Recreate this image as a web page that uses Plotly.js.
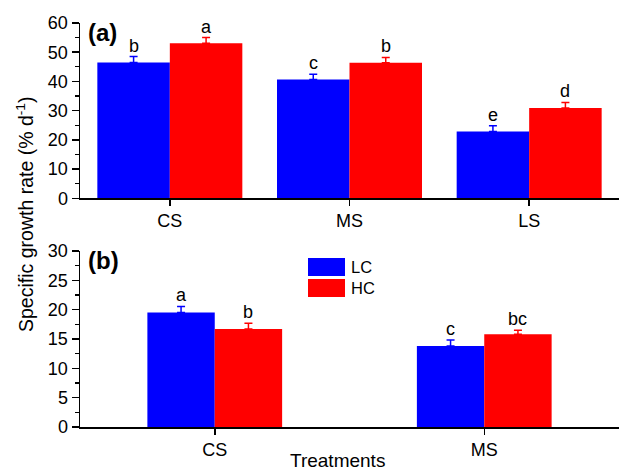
<!DOCTYPE html>
<html><head><meta charset="utf-8">
<script src="https://cdn.plot.ly/plotly-3.0.1.min.js"></script>
<style>html,body{margin:0;padding:0;background:#fff;}#chart{width:619px;height:473px;}</style>
</head><body><div id="chart"></div>
<script>
// Panel (a)
const categoriesA = ['CS', 'MS', 'LS'];
const lcA = [46.5, 40.7, 22.9];
const lcErrA = [2.0, 1.8, 1.9];
const hcA = [53.1, 46.4, 30.9];
const hcErrA = [1.9, 1.8, 1.9];
const lcLettersA = ['b', 'c', 'e'];
const hcLettersA = ['a', 'b', 'd'];
// Panel (b)
const categoriesB = ['CS', 'MS'];
const lcB = [19.5, 13.8];
const lcErrB = [1.05, 1.05];
const hcB = [16.7, 15.8];
const hcErrB = [1.0, 0.7];
const lcLettersB = ['a', 'c'];
const hcLettersB = ['b', 'bc'];

const BLUE = '#0000FF', RED = '#FF0000';
const FONT = 'Liberation Sans, Arial, sans-serif';
const W = 619, H = 473, ML = 80, MR = 0, MT = 23, MB = 46;
const plotW = W - ML - MR, plotH = H - MT - MB;
const gapA = 0.193, gapB = 0.5;

function errObj(arr, color) {
  return {type: 'data', symmetric: false, array: arr, arrayminus: arr.map(() => 0),
          color: color, thickness: 1.5, width: 4};
}

const traces = [
  {type: 'bar', x: categoriesA, y: lcA, name: 'LC', marker: {color: BLUE}, error_y: errObj(lcErrA, BLUE), xaxis: 'x', yaxis: 'y', showlegend: false},
  {type: 'bar', x: categoriesA, y: hcA, name: 'HC', marker: {color: RED}, error_y: errObj(hcErrA, RED), xaxis: 'x', yaxis: 'y', showlegend: false},
  {type: 'bar', x: categoriesB, y: lcB, name: 'LC', marker: {color: BLUE}, error_y: errObj(lcErrB, BLUE), xaxis: 'x2', yaxis: 'y2', showlegend: false},
  {type: 'bar', x: categoriesB, y: hcB, name: 'HC', marker: {color: RED}, error_y: errObj(hcErrB, RED), xaxis: 'x2', yaxis: 'y2', showlegend: false}
];

const annotations = [];
function letters(cats, vals, errs, labs, sign, xr, yr, gap) {
  const off = (plotW / cats.length) * (1 - gap) / 4;
  cats.forEach((c, i) => {
    annotations.push({xref: xr, yref: yr, x: c, y: vals[i] + errs[i], text: labs[i],
      showarrow: false, xanchor: 'center', yanchor: 'bottom', xshift: sign * off, yshift: -1,
      font: {family: FONT, size: 18, color: '#000'}});
  });
}
letters(categoriesA, lcA, lcErrA, lcLettersA, -1, 'x', 'y', gapA);
letters(categoriesA, hcA, hcErrA, hcLettersA, 1, 'x', 'y', gapA);
letters(categoriesB, lcB, lcErrB, lcLettersB, -1, 'x2', 'y2', gapB);
letters(categoriesB, hcB, hcErrB, hcLettersB, 1, 'x2', 'y2', gapB);

function px2x(p) { return (p - ML) / plotW; }
function py2y(p) { return (H - MB - p) / plotH; }

annotations.push(
  {xref: 'paper', yref: 'paper', x: px2x(86), y: py2y(32), text: '<b>(a)</b>', showarrow: false, xanchor: 'left', yanchor: 'middle', font: {family: FONT, size: 24, color: '#000'}},
  {xref: 'paper', yref: 'paper', x: px2x(86), y: py2y(260), text: '<b>(b)</b>', showarrow: false, xanchor: 'left', yanchor: 'middle', font: {family: FONT, size: 24, color: '#000'}},
  {xref: 'paper', yref: 'paper', x: px2x(25), y: py2y(215), text: 'Specific growth rate (% d<sup>-1</sup>)', textangle: -90, showarrow: false, xanchor: 'center', yanchor: 'middle', font: {family: FONT, size: 19.5, color: '#000'}},
  {xref: 'paper', yref: 'paper', x: px2x(337), y: py2y(472.5), text: 'Treatments', showarrow: false, xanchor: 'center', yanchor: 'bottom', font: {family: FONT, size: 19, color: '#000'}},
  {xref: 'paper', yref: 'paper', x: px2x(349), y: py2y(267), text: 'LC', showarrow: false, xanchor: 'left', yanchor: 'middle', font: {family: FONT, size: 16.5, color: '#000'}},
  {xref: 'paper', yref: 'paper', x: px2x(349), y: py2y(288), text: 'HC', showarrow: false, xanchor: 'left', yanchor: 'middle', font: {family: FONT, size: 16.5, color: '#000'}}
);

const shapes = [
  {type: 'rect', xref: 'paper', yref: 'paper', x0: px2x(308), x1: px2x(345), y0: py2y(276), y1: py2y(258), fillcolor: BLUE, line: {width: 0}},
  {type: 'rect', xref: 'paper', yref: 'paper', x0: px2x(308), x1: px2x(345), y0: py2y(297), y1: py2y(279), fillcolor: RED, line: {width: 0}}
];

const yaxBase = {showgrid: false, zeroline: false, showline: true, linecolor: '#000', linewidth: 1.5,
  ticks: 'outside', ticklen: 7, tickwidth: 1.5, tickcolor: '#000',
  tickfont: {family: FONT, size: 18, color: '#000'}, fixedrange: true};
const xaxBase = {showgrid: false, zeroline: false, showline: true, linecolor: '#000', linewidth: 1.5,
  ticks: 'outside', ticklen: 6, tickwidth: 1.5, tickcolor: '#000',
  tickfont: {family: FONT, size: 18, color: '#000'}, fixedrange: true, type: 'category'};

const layout = {
  width: W, height: H,
  margin: {l: ML, r: MR, t: MT, b: MB},
  paper_bgcolor: '#fff', plot_bgcolor: '#fff',
  barmode: 'group',
  bargap: gapA,
  showlegend: false,
  xaxis: Object.assign({}, xaxBase, {domain: [0, 1], anchor: 'y', range: [-0.5, 2.5]}),
  yaxis: Object.assign({}, yaxBase, {domain: [py2y(198.3), 1], anchor: 'x', range: [0, 60], dtick: 10,
    minor: {dtick: 5, ticks: 'outside', ticklen: 4, tickwidth: 1.2, tickcolor: '#000'}}),
  xaxis2: Object.assign({}, xaxBase, {domain: [0, 1], anchor: 'y2', range: [-0.5, 1.5]}),
  yaxis2: Object.assign({}, yaxBase, {domain: [0, py2y(251)], anchor: 'x2', range: [0, 30], dtick: 5,
    minor: {dtick: 2.5, ticks: 'outside', ticklen: 4, tickwidth: 1.2, tickcolor: '#000'}}),
  annotations: annotations,
  shapes: shapes
};

// bottom panel uses a wider gap: per-trace width/offset
const wB = 1 - gapB;
traces[2].width = wB / 2; traces[2].offset = -wB / 2;
traces[3].width = wB / 2; traces[3].offset = 0;

Plotly.newPlot('chart', traces, layout, {displayModeBar: false, staticPlot: true});
</script></body></html>
